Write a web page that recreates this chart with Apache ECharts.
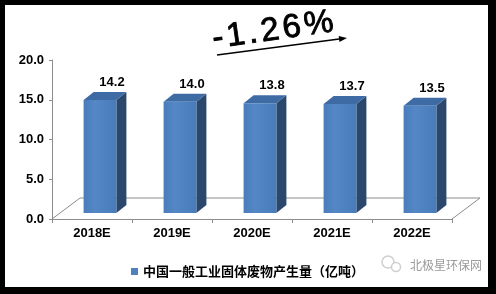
<!DOCTYPE html>
<html>
<head>
<meta charset="utf-8">
<script src="https://cdn.jsdelivr.net/npm/echarts@6/dist/echarts.min.js"></script>
<style>
html,body{margin:0;padding:0;background:#000;}
#chart{width:496px;height:294px;}
</style>
</head>
<body>
<div id="chart"></div>
<script>
// ---- data ----
const categories = ['2018E', '2019E', '2020E', '2021E', '2022E'];
const values = [14.2, 14.0, 13.8, 13.7, 13.5];
const seriesName = '中国一般工业固体废物产生量（亿吨）';
const yMin = 0, yMax = 20, yInterval = 5;
const trendLabel = '-1.26%';
const watermark = '北极星环保网';

// ---- styling constants ----
const FRONT = '#4F81BD', SIDE = '#2B476C', TOP = '#3E6BA4';
const D1 = [8, -6];    // front face depth offset
const D2 = [18, -14];  // back face depth offset
const DF = [28, -21];  // floor depth
const numFont = 'Liberation Sans';

const chart = echarts.init(document.getElementById('chart'), null, {renderer: 'canvas'});

function renderBar(params, api) {
  const idx = api.value(0), val = api.value(1);
  const base = api.coord([idx, 0]);
  const top = api.coord([idx, val]);
  const band = api.size([1, 0])[0];
  const w = band * 0.41;
  const xl = base[0] - w / 2 + D1[0];
  const xr = xl + w;
  const yt = top[1] + D1[1];
  const yb = base[1] + D1[1];
  const ddx = D2[0] - D1[0], ddy = D2[1] - D1[1];
  return {
    type: 'group',
    children: [
      {type: 'polygon', shape: {points: [[xr, yt], [xr + ddx, yt + ddy], [xr + ddx, yb + ddy], [xr, yb]]}, style: {fill: SIDE}},
      {type: 'polygon', shape: {points: [[xl, yt], [xl + ddx, yt + ddy], [xr + ddx, yt + ddy], [xr, yt]]}, style: {fill: TOP}},
      {type: 'rect', shape: {x: xl, y: yt, width: w, height: yb - yt},
        style: {fill: new echarts.graphic.LinearGradient(0, 0, 1, 0, [
          {offset: 0, color: '#4a7cbb'}, {offset: 0.35, color: '#5387c6'}, {offset: 1, color: '#4a7bb9'}])}},
      {type: 'text', style: {x: base[0] + 20, y: yt + ddy - 3, text: val.toFixed(1),
        font: 'bold 13px "' + numFont + '"', fill: '#000', align: 'center', verticalAlign: 'bottom'}}
    ]
  };
}

function renderFloor(params, api) {
  const band = api.size([1, 0])[0];
  const p0 = api.coord([0, 0]);
  const pn = api.coord([categories.length - 1, 0]);
  const xL = p0[0] - band / 2, xR = pn[0] + band / 2, y = p0[1];
  return {
    type: 'polyline',
    shape: {points: [[xL, y], [xL + DF[0], y + DF[1]], [xR + DF[0], y + DF[1]], [xR, y]]},
    style: {stroke: '#8c8c8c', lineWidth: 1, fill: null}
  };
}

// title characters laid out with spacing
const titleSize = 33;
const mctx = document.createElement('canvas').getContext('2d');
const titleFont = titleSize + 'px "Liberation Sans"';
mctx.font = titleFont;
const titleChildren = [];
let tx = 0;
for (const ch of trendLabel) {
  titleChildren.push({type: 'text', x: tx, y: -titleSize * 0.33,
    style: {text: ch, font: titleFont, fill: '#000', stroke: '#000', lineWidth: 0.9, verticalAlign: 'middle'}});
  tx += mctx.measureText(ch).width + 3.5;
}

// arrow
const a0 = [217, 55], a1 = [347, 38];
const ang = Math.atan2(a1[1] - a0[1], a1[0] - a0[0]);
const hl = 8, hw = 3;
const head = [
  a1,
  [a1[0] - hl * Math.cos(ang) + hw * Math.sin(ang), a1[1] - hl * Math.sin(ang) - hw * Math.cos(ang)],
  [a1[0] - hl * Math.cos(ang) - hw * Math.sin(ang), a1[1] - hl * Math.sin(ang) + hw * Math.cos(ang)]
];

const option = {
  backgroundColor: '#000',
  animation: false,
  grid: {left: 52, right: 44, top: 60, bottom: 75},
  xAxis: {
    type: 'category', data: categories, boundaryGap: true,
    axisLine: {lineStyle: {color: '#8c8c8c'}},
    axisTick: {show: true, length: 4, lineStyle: {color: '#8c8c8c'}},
    axisLabel: {color: '#000', fontWeight: 'bold', fontSize: 13, fontFamily: numFont, margin: 8}
  },
  yAxis: {
    type: 'value', min: yMin, max: yMax, interval: yInterval,
    axisLine: {show: true, lineStyle: {color: '#8c8c8c'}},
    axisTick: {show: true, length: 3, lineStyle: {color: '#8c8c8c'}},
    splitLine: {show: false},
    axisLabel: {color: '#000', fontWeight: 'bold', fontSize: 13, fontFamily: numFont, margin: 8,
      formatter: v => v.toFixed(1)}
  },
  legend: {
    data: [seriesName], left: 126, top: 260, icon: 'rect', itemWidth: 7, itemHeight: 7, itemGap: 6,
    textStyle: {color: '#000', fontWeight: 'bold', fontSize: 13, fontFamily: 'Noto Sans CJK SC'}
  },
  graphic: [
    {type: 'rect', z: -100, shape: {x: 5, y: 5, width: 483, height: 282}, style: {fill: '#fff'}},
    {type: 'group', x: 214, y: 50, rotation: 0.14, children: titleChildren},
    {type: 'line', shape: {x1: a0[0], y1: a0[1], x2: a1[0] - 4 * Math.cos(ang), y2: a1[1] - 4 * Math.sin(ang)}, style: {stroke: '#000', lineWidth: 1.5}},
    {type: 'polygon', shape: {points: head}, style: {fill: '#000'}},
    {type: 'circle', shape: {cx: 388, cy: 262, r: 6}, style: {fill: null, stroke: '#cfcfcf', lineWidth: 1.5}},
    {type: 'circle', shape: {cx: 396, cy: 267, r: 4.5}, style: {fill: '#fff', stroke: '#cfcfcf', lineWidth: 1.5}},
    {type: 'text', x: 410, y: 265, style: {text: watermark, font: '12px "Noto Sans CJK SC"', fill: '#9a9a9a', verticalAlign: 'middle'}}
  ],
  series: [
    {type: 'custom', name: '_floor', silent: true, renderItem: renderFloor, data: [[0, 0]], z: 1},
    {type: 'custom', name: seriesName, renderItem: renderBar, itemStyle: {color: FRONT},
      data: values.map((v, i) => [i, v]), encode: {x: 0, y: 1}, z: 3}
  ]
};
chart.setOption(option);
</script>
</body>
</html>
